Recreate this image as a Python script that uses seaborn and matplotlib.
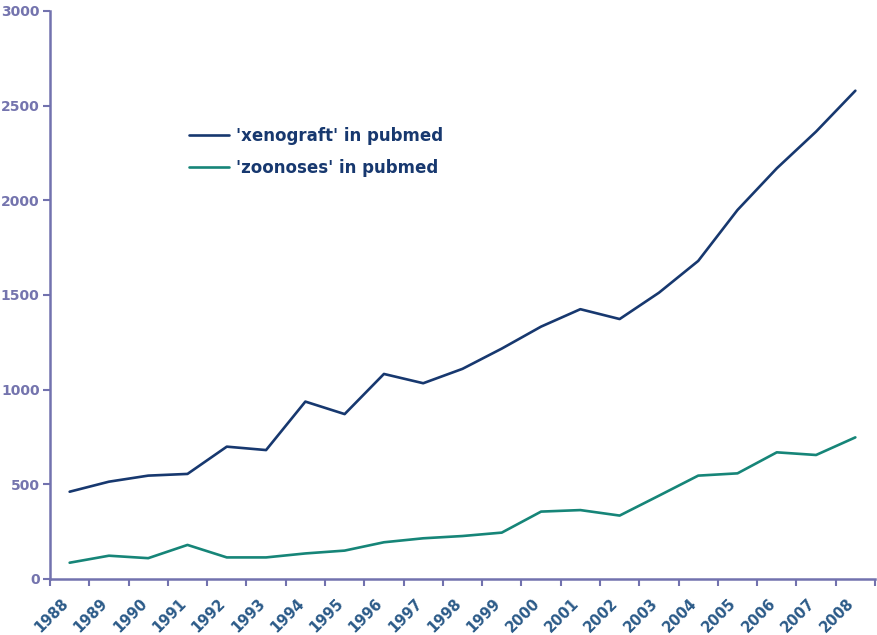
import matplotlib
matplotlib.use("Agg")
import matplotlib.pyplot as plt
import matplotlib.transforms as mtransforms
import seaborn as sns
import pandas as pd
import numpy as np
from matplotlib.ticker import FixedLocator

years = [str(y) for y in range(1988, 2009)]
xenograft = [461, 514, 546, 555, 699, 681, 937, 871, 1083, 1034, 1110,
             1217, 1333, 1425, 1373, 1512, 1680, 1949, 2169, 2363, 2579]
zoonoses = [86, 123, 110, 180, 114, 114, 135, 150, 194, 215, 227,
            245, 356, 364, 335, 440, 546, 558, 669, 655, 748]
series_names = ["'xenograft' in pubmed", "'zoonoses' in pubmed"]
y_ticks = [0, 500, 1000, 1500, 2000, 2500, 3000]

df = pd.DataFrame({
    "idx": list(range(len(years))) * 2,
    "value": xenograft + zoonoses,
    "series": [series_names[0]] * len(years) + [series_names[1]] * len(years),
})

sns.set_theme(style="white")
plt.rcParams["font.family"] = ["DejaVu Sans"]

fig = plt.figure(figsize=(8.77, 6.35), dpi=100)
ax = fig.add_axes([50 / 877, 1 - 579 / 635, (875 - 50) / 877, (579 - 11) / 635])

palette = {series_names[0]: "#17386f", series_names[1]: "#168578"}
sns.lineplot(data=df, x="idx", y="value", hue="series", palette=palette,
             linewidth=1.9, ax=ax, legend=True, solid_joinstyle="round")

ax.set_xlim(-0.5, len(years) - 0.5)
ax.set_ylim(0, 3000)
ax.set_xlabel("")
ax.set_ylabel("")

axis_col = "#7272ae"
for s in ["top", "right"]:
    ax.spines[s].set_visible(False)
for s in ["left", "bottom"]:
    ax.spines[s].set_color(axis_col)
    ax.spines[s].set_linewidth(1.8)

ax.set_yticks(y_ticks)
ax.set_yticklabels([str(v) for v in y_ticks], fontsize=10, fontweight="bold", color="#7474ae")
ax.tick_params(axis="y", which="major", direction="out", length=5, width=1.5,
               color=axis_col, left=True, pad=2.5)

ax.set_xticks(range(len(years)))
ax.set_xticklabels(years, rotation=45, ha="right", rotation_mode="anchor",
                   fontsize=10.5, fontweight="bold", color="#2b5a88")
ax.tick_params(axis="x", which="major", length=0, pad=12)
offset = mtransforms.ScaledTranslation(-9 / 100, 0, fig.dpi_scale_trans)
for lbl in ax.get_xticklabels():
    lbl.set_transform(lbl.get_transform() + offset)
ax.xaxis.set_minor_locator(FixedLocator(np.arange(-0.5, len(years) + 0.5, 1)))
ax.tick_params(axis="x", which="minor", direction="out", length=5, width=1.5,
               color=axis_col, bottom=True)

leg = ax.legend(loc="upper left", bbox_to_anchor=(0.168, 0.796), frameon=False,
                borderaxespad=0, borderpad=0,
                handlelength=2.4, handletextpad=0.45, labelspacing=0.85,
                prop={"size": 12, "weight": "bold"})
for t in leg.get_texts():
    t.set_color("#17386f")
for l in leg.get_lines():
    l.set_linewidth(1.9)

ax.grid(False)
fig.savefig("out.png", dpi=100, facecolor="white")
